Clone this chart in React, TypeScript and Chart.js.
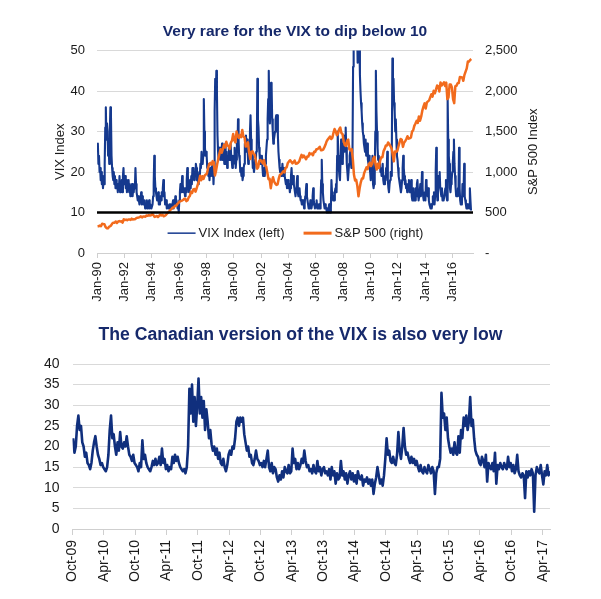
import React, { useEffect, useRef } from 'react';
import { Chart, registerables } from 'chart.js';

Chart.register(...registerables);

const FONT = '"Liberation Sans", Arial, Helvetica, sans-serif';
const NAVY = '#16296b';
const TEXT = '#1a1a1a';
const GRID = '#d9d9d9';
const AXIS = '#cfcfcf';

// ---------- text ----------
const topTitle = 'Very rare for the VIX to dip below 10';
const bottomTitle = 'The Canadian version of the VIX is also very low';
const topLeftAxisTitle = 'VIX Index';
const topRightAxisTitle = 'S&P 500 Index';
const legendLabels = ['VIX Index (left)', 'S&P 500 (right)'];

// ---------- tick labels ----------
const topXTickLabels = ['Jan-90', 'Jan-92', 'Jan-94', 'Jan-96', 'Jan-98', 'Jan-00', 'Jan-02', 'Jan-04', 'Jan-06', 'Jan-08', 'Jan-10', 'Jan-12', 'Jan-14', 'Jan-16'];
const bottomXTickLabels = ['Oct-09', 'Apr-10', 'Oct-10', 'Apr-11', 'Oct-11', 'Apr-12', 'Oct-12', 'Apr-13', 'Oct-13', 'Apr-14', 'Oct-14', 'Apr-15', 'Oct-15', 'Apr-16', 'Oct-16', 'Apr-17'];

// ---------- data ----------
const vixFloorLevel = 10;

// VIX, two readings per month from Jan 1990
const vixSemiMonthly = [
  25, 27, 22, 24, 20, 21, 18, 20, 17, 19, 16, 18, 17, 22, 31, 36, 28, 32, 30, 24, 26, 22, 30, 36,
  34, 24, 21, 19, 18, 20, 17, 19, 16, 18, 16, 17, 15, 17, 16, 19, 15, 17, 16, 18, 15, 19, 21, 17,
  17, 19, 16, 18, 15, 17, 16, 18, 15, 17, 14, 16, 15, 17, 14, 16, 15, 17, 16, 21, 17, 15, 14, 13,
  14, 13, 12, 14, 13, 15, 12, 14, 13, 12, 12, 13, 11, 12, 12, 13, 11, 12, 12, 13, 11, 12, 12, 11,
  11, 12, 14, 17, 24, 19, 16, 15, 14, 13, 14, 15, 12, 13, 12, 14, 13, 15, 14, 16, 18, 14, 15, 12,
  12, 13, 11, 12, 12, 11, 11, 12, 11, 12, 11, 12, 12, 13, 11, 13, 12, 14, 12, 13, 12, 11, 12, 10,
  13, 15, 17, 15, 16, 19, 17, 15, 15, 16, 14, 16, 15, 18, 21, 19, 17, 15, 16, 18, 16, 19, 17, 21,
  19, 21, 18, 20, 19, 22, 21, 18, 19, 17, 18, 20, 19, 22, 21, 25, 23, 22, 24, 38, 30, 26, 24, 25,
  24, 21, 22, 19, 20, 18, 21, 19, 20, 22, 19, 21, 17, 21, 35, 43, 38, 45, 40, 29, 25, 23, 26, 24,
  26, 23, 25, 27, 23, 26, 25, 22, 24, 27, 22, 25, 21, 24, 23, 26, 25, 23, 27, 24, 23, 21, 24, 22,
  23, 26, 24, 21, 23, 27, 25, 33, 28, 24, 23, 20, 21, 19, 21, 18, 19, 21, 22, 27, 25, 29, 26, 28,
  25, 22, 27, 24, 30, 34, 28, 25, 24, 21, 22, 20, 21, 23, 22, 25, 26, 43, 33, 31, 26, 24, 22, 24,
  22, 24, 21, 19, 20, 21, 19, 22, 24, 26, 28, 33, 38, 45, 35, 32, 38, 42, 41, 33, 30, 27, 28, 29,
  30, 33, 34, 30, 34, 29, 25, 23, 21, 20, 21, 19, 20, 22, 20, 19, 21, 19, 18, 17, 18, 16, 17, 18,
  16, 17, 15, 16, 19, 21, 18, 17, 19, 17, 16, 15, 14, 16, 17, 19, 15, 14, 15, 16, 14, 13, 13, 12,
  13, 12, 13, 11, 12, 14, 15, 17, 14, 13, 12, 11, 12, 11, 13, 12, 11, 12, 14, 16, 13, 12, 11, 12,
  12, 13, 11, 12, 11, 12, 12, 11, 13, 18, 23, 17, 15, 13, 12, 11, 12, 11, 11, 10, 11, 10, 11, 12,
  11, 10, 11, 18, 15, 14, 13, 14, 13, 15, 16, 17, 15, 24, 30, 24, 21, 19, 18, 23, 28, 24, 22, 23,
  27, 29, 25, 27, 31, 26, 22, 20, 18, 20, 22, 24, 25, 23, 21, 22, 25, 46, 60, 70, 80, 62, 55, 52,
  56, 47, 53, 50, 52, 44, 40, 37, 35, 32, 30, 29, 27, 26, 25, 28, 24, 26, 27, 23, 22, 24, 21, 20,
  18, 22, 20, 24, 17, 16, 17, 19, 30, 45, 35, 30, 26, 23, 24, 22, 23, 20, 21, 19, 20, 22, 18, 17,
  17, 19, 18, 21, 20, 25, 18, 16, 15, 17, 18, 20, 19, 25, 48, 40, 43, 37, 35, 30, 33, 28, 24, 23,
  21, 19, 18, 17, 16, 15, 16, 18, 21, 24, 21, 19, 17, 18, 16, 17, 15, 16, 17, 18, 16, 15, 17, 18,
  14, 13, 14, 16, 13, 14, 13, 16, 14, 17, 18, 15, 13, 14, 15, 17, 14, 16, 20, 16, 14, 13, 14, 15,
  13, 18, 17, 15, 14, 16, 13, 12, 12, 11, 12, 11, 12, 14, 13, 15, 12, 14, 20, 26, 16, 13, 15, 19,
  17, 20, 16, 15, 14, 16, 13, 14, 13, 14, 14, 16, 18, 14, 13, 38, 28, 24, 22, 16, 15, 17, 18, 20,
  22, 25, 28, 22, 19, 16, 14, 15, 14, 16, 15, 26, 16, 13, 12, 13, 12, 17, 14, 16, 22, 14, 13, 12,
  11, 12, 11, 12, 12, 11, 16, 13, 10.5, 10.5,
];

// S&P 500, monthly from Jan 1990
const spxMonthly = [
  329, 331, 339, 331, 361, 358, 356, 322, 306, 304, 322, 330,
  343, 367, 375, 375, 389, 371, 387, 395, 388, 392, 375, 417,
  408, 412, 404, 414, 415, 408, 424, 414, 418, 418, 431, 436,
  439, 443, 452, 440, 450, 451, 448, 464, 459, 468, 462, 466,
  482, 467, 446, 451, 457, 444, 458, 475, 463, 472, 454, 459,
  470, 487, 501, 515, 533, 545, 562, 562, 584, 582, 605, 616,
  636, 640, 646, 654, 669, 671, 640, 652, 687, 705, 757, 741,
  786, 790, 757, 801, 848, 885, 954, 899, 947, 915, 955, 970,
  980, 1049, 1102, 1112, 1091, 1134, 1121, 957, 1017, 1099, 1164, 1229,
  1280, 1238, 1286, 1335, 1302, 1373, 1329, 1320, 1283, 1363, 1389, 1469,
  1394, 1366, 1499, 1452, 1421, 1455, 1431, 1518, 1437, 1429, 1315, 1320,
  1366, 1240, 1160, 1249, 1256, 1224, 1211, 1134, 1041, 1060, 1139, 1148,
  1130, 1107, 1147, 1077, 1067, 990, 912, 916, 800, 886, 936, 880,
  856, 841, 848, 917, 964, 975, 990, 1008, 996, 1051, 1058, 1112,
  1131, 1145, 1126, 1107, 1121, 1141, 1102, 1104, 1115, 1130, 1174, 1212,
  1181, 1204, 1181, 1157, 1192, 1191, 1234, 1220, 1229, 1207, 1249, 1248,
  1280, 1281, 1295, 1311, 1270, 1270, 1277, 1304, 1336, 1378, 1401, 1418,
  1438, 1407, 1421, 1482, 1531, 1503, 1455, 1474, 1527, 1549, 1481, 1468,
  1379, 1331, 1323, 1386, 1400, 1280, 1267, 1283, 1166, 969, 896, 903,
  826, 700, 798, 873, 919, 919, 987, 1021, 1057, 1036, 1096, 1115,
  1074, 1104, 1169, 1187, 1089, 1031, 1102, 1049, 1141, 1183, 1181, 1258,
  1286, 1327, 1326, 1364, 1345, 1321, 1292, 1219, 1131, 1253, 1247, 1258,
  1312, 1366, 1408, 1398, 1310, 1362, 1379, 1407, 1441, 1412, 1416, 1426,
  1498, 1515, 1569, 1598, 1631, 1606, 1686, 1633, 1682, 1757, 1806, 1848,
  1783, 1859, 1872, 1884, 1924, 1960, 1931, 2003, 1972, 2018, 2068, 2059,
  1995, 2105, 2068, 2086, 2107, 2063, 2104, 1900, 1920, 2079, 2080, 2044,
  1900, 1850, 2060, 2065, 2097, 2099, 2174, 2171, 2168, 2126, 2199, 2239,
  2279, 2364, 2363, 2384, 2395,
];

// Canadian VIX, four readings per month from Oct 2009
const cdnVixWeekly = [
  22, 18.5, 20, 25,   27.5, 24, 25, 21,   20, 17.5, 18.5, 16,
  15.5, 14.5, 16, 19,   21, 22.5, 20, 18,   17, 15.5, 16, 15,
  14.5, 14, 15, 18,   24, 27.5, 22, 23,   20, 18, 21, 19,
  23.5, 20, 19.5, 21,   20, 22.5, 20, 18,   17.5, 16.5, 18, 16,
  15.5, 15, 14, 16,   15, 21.5, 17, 18,   16, 15, 14.5, 14,
  15, 16.5, 15.5, 17,   15.5, 16, 17.5, 15.5,   19.5, 16, 17, 14.5,
  15.5, 14, 15, 14.5,   17.5, 16, 18, 16.5,   17.5, 16, 15, 14.5,
  14, 14.5, 13.5, 15,   20, 34, 28, 35,   26, 32, 25, 30,
  36.5, 28, 32, 27,   31, 24, 29, 26,   22, 24, 20.5, 19,
  20, 18, 19.5, 17,   18.5, 16, 15.5, 17,   15, 14, 15.5, 18,
  19, 18, 20, 19.5,   22, 26, 27, 25,   27, 26, 27, 23,
  21, 19, 20, 17.5,   18, 16, 15.5, 17,   19, 17, 16.5, 15.5,
  16, 15, 16.5, 15,   17, 19, 15, 14,   16, 13.5, 15, 14.5,
  12.5, 11.5, 13, 12,   14, 12.5, 15, 14,   13.5, 15.5, 13.5, 14,
  19.5, 16, 17, 14.5,   16, 14.5, 15.5, 17,   16, 19, 16.5, 15,
  15.5, 14, 14.5, 13.5,   15.5, 14, 13.5, 16.5,   14, 15, 13, 14.5,
  15, 13.5, 14, 13,   14.5, 12, 15, 13,   14, 11, 13.5, 12,
  12.5, 16.5, 13, 14,   12, 13.5, 11, 13,   14, 12, 13.5, 11.5,
  13, 11, 14, 12.5,   12, 13, 10.5, 12,   11.5, 12.5, 11, 12,
  10.5, 12, 8.5, 11,   12.5, 15, 13, 11,   12, 10.5, 13, 17,
  22, 18, 19, 16.5,   16, 17.5, 16, 15.5,   18, 23.5, 19, 17,
  20, 24.5, 20, 18,   18.5, 17, 16, 17.5,   16, 17, 15.5, 16.5,
  15, 14, 15.5, 14,   13.5, 15, 14, 13.5,   15.5, 14.5, 13.5, 15,
  14, 8.5, 13.5, 15,   15, 17, 33, 27,   28, 24, 27, 22,
  20, 18.5, 19.5, 18,   21, 18.5, 18, 22.5,   18.5, 24, 22, 27,
  25, 27.5, 24, 26,   32, 25, 26.5, 22,   19, 18, 17.5, 16,
  15.5, 17.5, 16.5, 15,   18, 11.5, 16, 15,   14.5, 16, 14, 18.5,
  11, 15.5, 14.5, 16,   15, 14.5, 16, 15,   14.5, 17.5, 15, 16,
  14, 15.5, 13.5, 14.5,   18, 14, 13, 12.5,   13.5, 13, 7.5, 14,
  12.5, 14, 13, 14.5,   13.5, 4.2, 13, 15,   14, 13.5, 15.5, 13,
  10.8, 14, 13, 15.5,   13, 14,
];

// ---------- derived chart tables ----------
const topXMax = 330; // months after Jan 1990
const bottomXMax = 91.4; // months after Oct 2009
const topXTickValues = topXTickLabels.map((_, i) => i * 24);
const bottomXTickValues = bottomXTickLabels.map((_, i) => i * 6);

const vixPoints = vixSemiMonthly.map((v, i) => ({ x: i / 2 + 0.25, y: v }));
const spxPoints = spxMonthly.map((v, i) => ({ x: i + 0.5, y: v }));
const floorPoints = [{ x: 0, y: vixFloorLevel }, { x: topXMax, y: vixFloorLevel }];
const cdnPoints = cdnVixWeekly.map((v, i) => ({ x: i / 4 + 0.125, y: v }));

const VIX_COLOR = '#15398e';
const SPX_COLOR = '#f26b1d';
const CDN_COLOR = '#102f7d';

function verticalText(ctx: any, text: string, x: number, y: number, font: string) {
  ctx.save();
  ctx.translate(x, y);
  ctx.rotate(-Math.PI / 2);
  ctx.font = font;
  ctx.fillStyle = TEXT;
  ctx.textAlign = 'center';
  ctx.textBaseline = 'middle';
  ctx.fillText(text, 0, 0);
  ctx.restore();
}

const topDecor = {
  id: 'topDecor',
  afterDraw(chart: any) {
    const { ctx, chartArea, scales } = chart;
    ctx.save();
    ctx.font = `bold 15.5px ${FONT}`;
    ctx.fillStyle = NAVY;
    ctx.textAlign = 'center';
    ctx.textBaseline = 'middle';
    ctx.fillText(topTitle, 295, 32);
    ctx.restore();

    const midY = (chartArea.top + chartArea.bottom) / 2;
    verticalText(ctx, topLeftAxisTitle, 60, midY, `13px ${FONT}`);
    verticalText(ctx, topRightAxisTitle, scales.y1.right - 68, midY, `13px ${FONT}`);

    // legend inside the plot
    ctx.save();
    ctx.font = `13px ${FONT}`;
    ctx.textBaseline = 'middle';
    ctx.textAlign = 'left';
    const ly = scales.y.getPixelForValue(4.9);
    const lineLen = 28;
    const gapText = 3;
    const gapItems = 19;
    const w0 = ctx.measureText(legendLabels[0]).width;
    const w1 = ctx.measureText(legendLabels[1]).width;
    const total = lineLen + gapText + w0 + gapItems + lineLen + gapText + w1;
    let lx = 295.5 - total / 2;
    ctx.strokeStyle = VIX_COLOR;
    ctx.lineWidth = 1.5;
    ctx.beginPath();
    ctx.moveTo(lx, ly);
    ctx.lineTo(lx + lineLen, ly);
    ctx.stroke();
    ctx.fillStyle = TEXT;
    ctx.fillText(legendLabels[0], lx + lineLen + gapText, ly);
    lx += lineLen + gapText + w0 + gapItems;
    ctx.strokeStyle = SPX_COLOR;
    ctx.lineWidth = 3;
    ctx.beginPath();
    ctx.moveTo(lx, ly);
    ctx.lineTo(lx + lineLen, ly);
    ctx.stroke();
    ctx.fillText(legendLabels[1], lx + lineLen + gapText, ly);
    ctx.restore();
  },
};

const bottomDecor = {
  id: 'bottomDecor',
  afterDraw(chart: any) {
    const { ctx } = chart;
    ctx.save();
    ctx.font = `bold 17.6px ${FONT}`;
    ctx.fillStyle = NAVY;
    ctx.textAlign = 'center';
    ctx.textBaseline = 'middle';
    ctx.fillText(bottomTitle, 300.5, 30);
    ctx.restore();
  },
};

function topConfig(): any {
  return {
    type: 'line',
    data: {
      datasets: [
        { label: 'VIX = 10', data: floorPoints, borderColor: '#000000', borderWidth: 2.6, yAxisID: 'y' },
        { label: legendLabels[1], data: spxPoints, borderColor: SPX_COLOR, borderWidth: 2.5, yAxisID: 'y1' },
        { label: legendLabels[0], data: vixPoints, borderColor: VIX_COLOR, borderWidth: 2.1, yAxisID: 'y' },
      ],
    },
    options: {
      responsive: false,
      animation: false,
      events: [],
      layout: { padding: { top: 50.5, left: 0, right: 0, bottom: 0 } },
      elements: { point: { radius: 0 }, line: { tension: 0, borderJoinStyle: 'round' } },
      plugins: { legend: { display: false }, tooltip: { enabled: false }, title: { display: false } },
      scales: {
        x: {
          type: 'linear',
          min: 0,
          max: topXMax,
          afterBuildTicks: (scale: any) => { scale.ticks = topXTickValues.map((v) => ({ value: v })); },
          afterFit: (scale: any) => { scale.height = 52; },
          ticks: {
            autoSkip: false,
            minRotation: 90,
            maxRotation: 90,
            padding: 4,
            color: TEXT,
            font: { size: 13, family: FONT },
            callback: (_v: any, i: number) => topXTickLabels[i],
          },
          grid: { drawOnChartArea: false, drawTicks: true, tickLength: 5, color: AXIS },
          border: { display: true, color: AXIS, width: 1 },
        },
        y: {
          position: 'left',
          min: 0,
          max: 50,
          afterFit: (scale: any) => { scale.width = 97; },
          ticks: { stepSize: 10, padding: 12, color: TEXT, font: { size: 13, family: FONT } },
          grid: { color: GRID, drawTicks: false },
          border: { display: false },
        },
        y1: {
          position: 'right',
          min: 0,
          max: 2500,
          afterFit: (scale: any) => { scale.width = 128; },
          ticks: {
            stepSize: 500,
            padding: 12,
            color: TEXT,
            font: { size: 13, family: FONT },
            callback: (v: any) => (v === 0 ? '-' : Number(v).toLocaleString('en-US')),
          },
          grid: { display: false, drawTicks: false },
          border: { display: false },
        },
      },
    },
    plugins: [topDecor],
  };
}

function bottomConfig(): any {
  return {
    type: 'line',
    data: {
      datasets: [
        { label: 'Canadian VIX', data: cdnPoints, borderColor: CDN_COLOR, borderWidth: 2.6 },
      ],
    },
    options: {
      responsive: false,
      animation: false,
      events: [],
      layout: { padding: { top: 59, left: 0, right: 51, bottom: 0 } },
      elements: { point: { radius: 0 }, line: { tension: 0, borderJoinStyle: 'round' } },
      plugins: { legend: { display: false }, tooltip: { enabled: false }, title: { display: false } },
      scales: {
        x: {
          type: 'linear',
          min: 0,
          max: bottomXMax,
          afterBuildTicks: (scale: any) => { scale.ticks = bottomXTickValues.map((v) => ({ value: v })); },
          afterFit: (scale: any) => { scale.height = 70; },
          ticks: {
            autoSkip: false,
            minRotation: 90,
            maxRotation: 90,
            padding: 5,
            color: TEXT,
            font: { size: 14, family: FONT },
            callback: (_v: any, i: number) => bottomXTickLabels[i],
          },
          grid: { drawOnChartArea: false, drawTicks: true, tickLength: 6, color: AXIS },
          border: { display: true, color: AXIS, width: 1 },
        },
        y: {
          min: 0,
          max: 40,
          afterFit: (scale: any) => { scale.width = 72.5; },
          ticks: { stepSize: 5, padding: 13, color: TEXT, font: { size: 14, family: FONT } },
          grid: { color: GRID, drawTicks: false },
          border: { display: false },
        },
      },
    },
    plugins: [bottomDecor],
  };
}

function ChartCanvas({ makeConfig, top, height }: { makeConfig: () => any; top: number; height: number }) {
  const ref = useRef<HTMLCanvasElement | null>(null);
  useEffect(() => {
    if (!ref.current) return;
    const chart = new Chart(ref.current, makeConfig());
    return () => chart.destroy();
  }, [makeConfig]);
  return (
    <canvas
      ref={ref}
      width={601}
      height={height}
      style={{ position: 'absolute', left: 0, top, width: 601, height, display: 'block' }}
    />
  );
}

export default function App() {
  return (
    <div style={{ position: 'absolute', left: 0, top: 0, width: 601, height: 599, background: '#ffffff', overflow: 'hidden' }}>
      <ChartCanvas makeConfig={topConfig} top={0} height={305} />
      <ChartCanvas makeConfig={bottomConfig} top={305} height={294} />
    </div>
  );
}
